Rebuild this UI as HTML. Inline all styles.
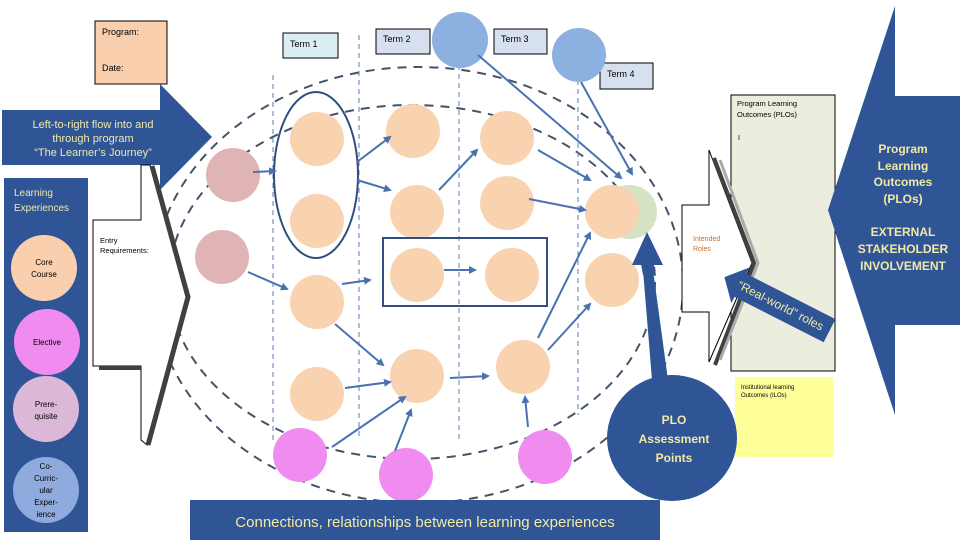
<!DOCTYPE html>
<html><head><meta charset="utf-8"><style>
body{margin:0;background:#fff}
svg{display:block;font-family:"Liberation Sans",sans-serif}
</style></head><body>
<svg width="960" height="540" viewBox="0 0 960 540" xmlns="http://www.w3.org/2000/svg">
<defs>
<marker id="a" markerWidth="8" markerHeight="8" refX="6" refY="4" orient="auto" markerUnits="userSpaceOnUse"><path d="M0,0 L8,4 L0,8 z" fill="#4a72b0"/></marker>
</defs>
<!-- dashed ellipses -->
<g fill="none" stroke="#44546a" stroke-width="2" stroke-dasharray="9,7">
<ellipse cx="418" cy="285" rx="265" ry="218"/>
<ellipse cx="412" cy="282" rx="243" ry="177"/>
</g>
<!-- vertical dashed -->
<g stroke="#5b7bb0" stroke-width="1" stroke-dasharray="5,4">
<line x1="273" y1="75" x2="273" y2="440"/><line x1="359" y1="35" x2="359" y2="440"/>
<line x1="459" y1="65" x2="459" y2="440"/><line x1="578" y1="80" x2="578" y2="415"/>
</g>
<!-- program box -->
<rect x="95" y="21" width="72" height="63" fill="#f9cfae" stroke="#000"/>
<text x="102" y="35" font-size="9">Program:</text><text x="102" y="71" font-size="9">Date:</text>
<!-- term boxes -->
<rect x="283" y="33" width="55" height="25" fill="#dbeef4" stroke="#000"/><text x="290" y="47" font-size="9">Term 1</text>
<rect x="376" y="29" width="54" height="25" fill="#d6e0ee" stroke="#000"/><text x="383" y="42" font-size="9">Term 2</text>
<rect x="494" y="29" width="53" height="25" fill="#d6e0ee" stroke="#000"/><text x="501" y="42" font-size="9">Term 3</text>
<rect x="600" y="63" width="53" height="26" fill="#d6e0ee" stroke="#000"/><text x="607" y="77" font-size="9">Term 4</text>
<circle cx="460" cy="40" r="28" fill="#8cb0e0"/>
<circle cx="579" cy="55" r="27" fill="#8cb0e0"/>
<!-- left arrow -->
<polygon points="2,110 160,110 160,84 212,137 160,190 160,165 2,165" fill="#2f5597"/>
<g fill="#f2e9a6" font-size="11" text-anchor="middle"><text x="93" y="128">Left-to-right flow  into and</text><text x="93" y="142">through program</text><text x="93" y="156">“The Learner’s Journey”</text></g>
<!-- entry req shape -->
<polygon points="141,165 150,165 188,297 147,445 141,440 141,366 93,366 93,220 141,220" fill="#fff" stroke="#000"/>
<polyline points="152,166 188,297 148,445" fill="none" stroke="#404040" stroke-width="5"/>
<line x1="99" y1="368" x2="141" y2="368" stroke="#404040" stroke-width="4"/>
<text x="100" y="243" font-size="7.5">Entry</text><text x="100" y="253" font-size="7.5">Requirements:</text>
<!-- learning experiences panel -->
<rect x="4" y="178" width="84" height="354" fill="#2f5597"/>
<text x="14" y="196" font-size="10" fill="#f2e9a6">Learning</text><text x="14" y="211" font-size="10" fill="#f2e9a6">Experiences</text>
<circle cx="44" cy="268" r="33" fill="#f9cfae"/><circle cx="47" cy="342" r="33" fill="#f08cf0"/>
<circle cx="46" cy="409" r="33" fill="#dcb8d8"/><circle cx="46" cy="490" r="33" fill="#8faadc"/>
<g font-size="8" text-anchor="middle"><text x="44" y="265">Core</text><text x="44" y="277">Course</text>
<text x="47" y="345">Elective</text><text x="46" y="407">Prere-</text><text x="46" y="419">quisite</text>
<text x="46" y="469">Co-</text><text x="46" y="481">Curric-</text><text x="46" y="493">ular</text><text x="46" y="505">Exper-</text><text x="46" y="517">ience</text></g>
<!-- PLO box -->
<rect x="731" y="95" width="104" height="276" fill="#ebeede" stroke="#000"/>
<text x="737" y="106" font-size="7.5">Program Learning</text><text x="737" y="117" font-size="7.5">Outcomes (PLOs)</text><text x="738" y="140" font-size="7">I</text>
<rect x="735" y="377" width="98" height="80" fill="#ffff99"/>
<text x="741" y="389" font-size="6">Institutional learning</text><text x="741" y="397" font-size="6">Outcomes (ILOs)</text>
<!-- intended roles shape -->
<polygon points="709,150 752,263 709,362 709,312 682,312 682,205 709,205" fill="#fff" stroke="#000"/>
<polyline points="714,158 754,263 715,365" fill="none" stroke="#404040" stroke-width="4"/>
<polyline points="720,160 758,263 720,360" fill="none" stroke="#aaa" stroke-width="3"/>
<text x="693" y="241" font-size="7" fill="#c07030">Intended</text><text x="693" y="251" font-size="7" fill="#c07030">Roles</text>
<!-- real-world roles -->
<g transform="translate(785,308) rotate(27)">
<polygon points="-50,-13 50,-13 50,13 -50,13 -50,20 -68,0 -50,-20" fill="#2f5597"/>
<text x="-5" y="4" font-size="12" fill="#f2e9a6" text-anchor="middle">“Real-world” roles</text></g>
<!-- right big shape -->
<polygon points="895,6 895,96 960,96 960,325 895,325 895,415 828,210" fill="#2f5597"/>
<g fill="#f2e9a6" font-size="12" font-weight="bold" text-anchor="middle">
<text x="903" y="153">Program</text><text x="903" y="170">Learning</text><text x="903" y="186">Outcomes</text><text x="903" y="203">(PLOs)</text>
<text x="903" y="236">EXTERNAL</text><text x="903" y="253">STAKEHOLDER</text><text x="903" y="270">INVOLVEMENT</text></g>
<!-- course circles -->
<g fill="#f9d3b0">
<circle cx="317" cy="139" r="27"/><circle cx="317" cy="221" r="27"/><circle cx="317" cy="302" r="27"/><circle cx="317" cy="394" r="27"/>
<circle cx="413" cy="131" r="27"/><circle cx="417" cy="212" r="27"/><circle cx="417" cy="275" r="27"/><circle cx="417" cy="376" r="27"/>
<circle cx="507" cy="138" r="27"/><circle cx="507" cy="203" r="27"/><circle cx="512" cy="275" r="27"/><circle cx="523" cy="367" r="27"/>
<circle cx="612" cy="280" r="27"/></g>
<circle cx="630" cy="212" r="27" fill="#d5e3c4"/><circle cx="612" cy="212" r="27" fill="#f9d3b0"/>
<circle cx="233" cy="175" r="27" fill="#e0b4b4"/><circle cx="222" cy="257" r="27" fill="#e0b4b4"/>
<g fill="#f08cf0"><circle cx="300" cy="455" r="27"/><circle cx="406" cy="475" r="27"/><circle cx="545" cy="457" r="27"/></g>
<ellipse cx="316" cy="175" rx="42" ry="83" fill="none" stroke="#2f4f7f" stroke-width="2"/>
<rect x="383" y="238" width="164" height="68" fill="none" stroke="#2f4f7f" stroke-width="2"/>
<!-- arrows -->
<g stroke="#4a72b0" stroke-width="2" marker-end="url(#a)">
<line x1="253" y1="172" x2="275" y2="171"/><line x1="357" y1="162" x2="390" y2="137"/><line x1="357" y1="180" x2="390" y2="190"/>
<line x1="439" y1="190" x2="477" y2="150"/><line x1="538" y1="150" x2="590" y2="180"/><line x1="529" y1="199" x2="585" y2="210"/>
<line x1="478" y1="55" x2="621" y2="178"/><line x1="581" y1="82" x2="632" y2="174"/>
<line x1="538" y1="338" x2="590" y2="233"/><line x1="548" y1="350" x2="590" y2="304"/>
<line x1="248" y1="272" x2="287" y2="289"/><line x1="342" y1="284" x2="370" y2="280"/><line x1="444" y1="270" x2="475" y2="270"/>
<line x1="335" y1="324" x2="383" y2="365"/><line x1="345" y1="388" x2="390" y2="382"/>
<line x1="332" y1="447" x2="405" y2="397"/><line x1="395" y1="451" x2="411" y2="410"/>
<line x1="450" y1="378" x2="488" y2="376"/><line x1="528" y1="427" x2="525" y2="397"/>
</g>
<!-- PLO assessment -->
<polygon points="643,270 653,270 668,380 652,380" fill="#2f5597"/>
<polygon points="647,232 663,265 652,265 643,265 632,265" fill="#2f5597"/>
<polygon points="640,258 653,258 655,275 643,275" fill="#2f5597"/>
<ellipse cx="672" cy="438" rx="65" ry="63" fill="#2f5597"/>
<g fill="#f2e9a6" font-size="12" font-weight="bold" text-anchor="middle"><text x="674" y="424">PLO</text><text x="674" y="443">Assessment</text><text x="674" y="462">Points</text></g>
<!-- bottom banner -->
<rect x="190" y="500" width="470" height="40" fill="#2f5597"/>
<text x="425" y="527" font-size="15" fill="#f2e9a6" text-anchor="middle">Connections, relationships between learning experiences</text>
</svg>
</body></html>
